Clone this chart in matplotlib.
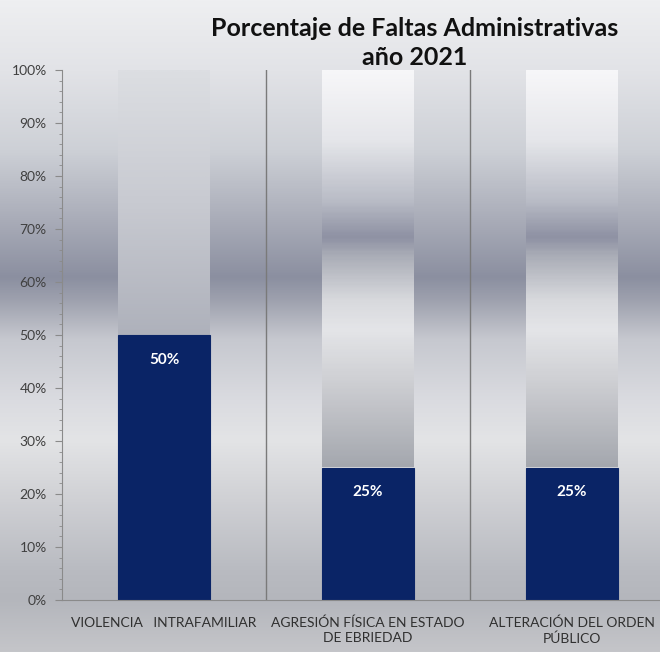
import matplotlib
matplotlib.use('Agg')
import matplotlib.pyplot as plt
import numpy as np
from matplotlib.colors import LinearSegmentedColormap
from matplotlib.ticker import MultipleLocator, PercentFormatter

# Chart data
categories = ['VIOLENCIA   INTRAFAMILIAR', 'AGRESIÓN FÍSICA EN ESTADO\nDE EBRIEDAD', 'ALTERACIÓN DEL ORDEN\nPÚBLICO']
values = [50, 25, 25]
total = 100
title = 'Porcentaje de Faltas Administrativas\naño 2021'

plt.rcParams['font.family'] = ['Lato', 'DejaVu Sans']

# Metallic gradients (stops from bottom to top, in fraction of the 0-100% scale)
bg_cmap = LinearSegmentedColormap.from_list('bg', [
    (0.00, '#c4c5c9'), (0.08, '#b4b6bc'), (0.125, '#b9bbc1'), (0.23, '#cfd0d4'),
    (0.325, '#e3e4e6'), (0.387, '#dadbe0'), (0.48, '#c6c8cf'), (0.54, '#9ea1ae'),
    (0.575, '#8b8fa0'), (0.663, '#a9acb8'), (0.77, '#cdd0d6'), (0.893, '#e2e3e7'),
    (1.00, '#eeeff1')])
metal_cmap = LinearSegmentedColormap.from_list('metal', [
    (0.00, '#a4a7ae'), (0.248, '#a4a7ae'), (0.414, '#cfd0d4'), (0.509, '#e4e5e8'),
    (0.565, '#d8d9dd'), (0.65, '#a9acb6'), (0.684, '#8e91a3'), (0.754, '#b9bcc6'),
    (0.868, '#e5e6ea'), (1.00, '#f7f7f9')])
plain_cmap = LinearSegmentedColormap.from_list('plain', [
    (0.0, '#a8abb5'), (0.5, '#aeb1bb'), (0.75, '#c8cad1'), (1.0, '#dcdee2')])
backdrop_cmaps = [plain_cmap, metal_cmap, metal_cmap]

fig = plt.figure(figsize=(6.6, 6.52), dpi=100)

# figure background
bg_ax = fig.add_axes([0, 0, 1, 1], zorder=-10)
bg_ax.imshow(np.linspace(0, 1, 256).reshape(-1, 1), cmap=bg_cmap, origin='lower',
             aspect='auto', extent=[0, 1, 0, 1])
bg_ax.axis('off')

ax = fig.add_axes([62 / 660, 52 / 652, 598 / 660, 530 / 652])
ax.patch.set_alpha(0)

x = np.arange(len(categories))
bar_width = 0.45

# 100% backdrop bars with gradient fill
for xi, v, cm in zip(x, values, backdrop_cmaps):
    grad = np.linspace(v / total, 1, 256).reshape(-1, 1)
    ax.imshow(grad, cmap=cm, vmin=0, vmax=1, origin='lower', aspect='auto',
              extent=[xi - bar_width / 2, xi + bar_width / 2, v, total], zorder=1)

bars = ax.bar(x, values, bar_width, color='#0a2466', edgecolor='#0a2466',
              linewidth=0.8, zorder=2)
for bar, v in zip(bars, values):
    ax.annotate(f'{v}%', (bar.get_x() + bar.get_width() / 2, v), xytext=(0, -18),
                textcoords='offset points', ha='center', va='center',
                color='white', fontsize=11, fontweight='bold', zorder=3)

# category separators
for sep in x[:-1] + 0.5:
    ax.plot([sep, sep], [0, total], color='#7a7a7a', lw=1, zorder=1.5)

ax.set_xlim(-0.5, -0.5 + 598 / 204)
ax.set_ylim(0, total)
ax.set_xticks(x)
ax.set_xticklabels(categories, fontsize=10, color='#303030', linespacing=1.3)
ax.tick_params(axis='x', length=0, pad=12)
ax.yaxis.set_major_locator(MultipleLocator(10))
ax.yaxis.set_minor_locator(MultipleLocator(2))
ax.yaxis.set_major_formatter(PercentFormatter(decimals=0))
ax.tick_params(axis='y', which='major', length=5, color='#8a8a8a', labelsize=10,
               labelcolor='#404040', pad=6)
ax.tick_params(axis='y', which='minor', length=2.5, color='#8a8a8a')
for side in ['top', 'right']:
    ax.spines[side].set_visible(False)
ax.spines['left'].set_color('#8a8a8a')
ax.spines['bottom'].set_color('#8a8a8a')

fig.text(415 / 660, 1 - 43 / 652, title, ha='center', va='center', fontsize=18,
         fontweight='bold', color='#111111', linespacing=1.35)

fig.savefig('out.png', dpi=100)
